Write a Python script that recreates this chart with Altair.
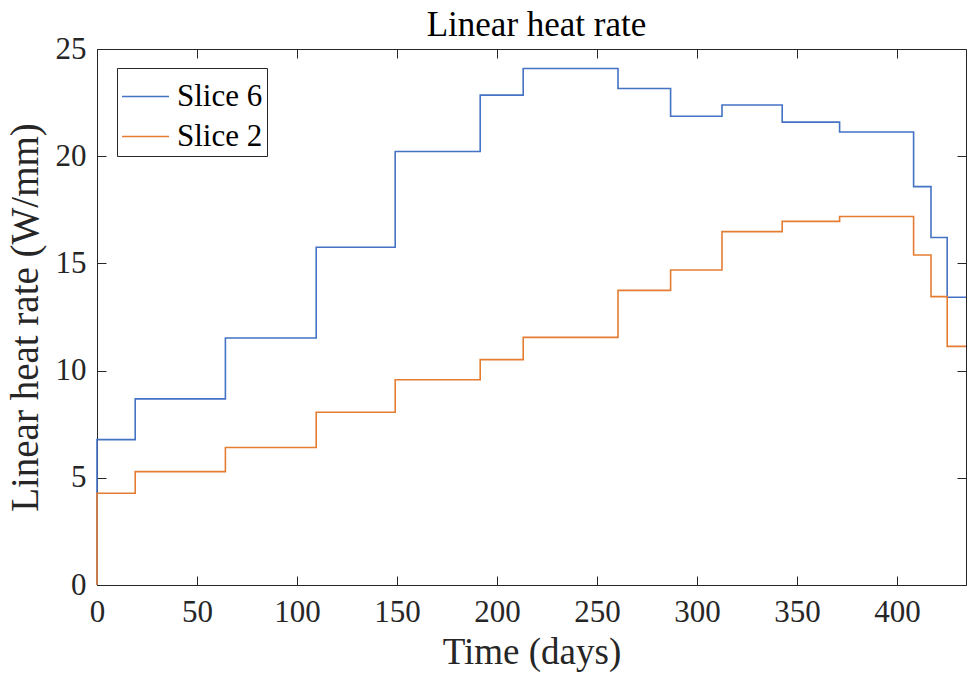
import altair as alt
import pandas as pd

# Step start times (days); last entry is the end of the final step
t_steps = [0, 0, 19.1, 64.2, 109.6, 149.1, 191.6, 213.1, 260.5, 286.8, 312.5,
           342.6, 371.3, 408.3, 417.0, 425.1, 434.5]
slice6 = [0, 6.78, 8.68, 11.52, 15.75, 20.22, 22.85, 24.09, 23.16, 21.86, 22.39,
          21.59, 21.13, 18.58, 16.21, 13.42, 13.42]
slice2 = [0, 4.28, 5.29, 6.41, 8.06, 9.57, 10.51, 11.55, 13.74, 14.69, 16.48,
          16.96, 17.19, 15.39, 13.45, 11.13, 11.13]
series_names = ["Slice 6", "Slice 2"]
series_colors = ["#4472C4", "#E47D32"]
x_ticks = [0, 50, 100, 150, 200, 250, 300, 350, 400]
y_ticks = [0, 5, 10, 15, 20, 25]
chart_title = "Linear heat rate"

rows = []
for name, vals in zip(series_names, [slice6, slice2]):
    for i, (t, v) in enumerate(zip(t_steps, vals)):
        rows.append({"t": t, "v": v, "series": name, "i": i})
df = pd.DataFrame(rows)

FONT = "Liberation Serif"
INK = "#262626"
TICK = 9

xscale = alt.Scale(domain=[0, 434.5], nice=False, zero=False)
yscale = alt.Scale(domain=[0, 25], nice=False)

base = alt.Chart(df)

lines = base.mark_line(interpolate="step-after", strokeWidth=1.6).encode(
    x=alt.X("t:Q", scale=xscale,
            axis=alt.Axis(title="Time (days)", values=x_ticks, ticks=False, domain=False,
                          grid=False, labelPadding=12, labelFontSize=31, labelFont=FONT,
                          labelFlush=False, labelOverlap=False,
                          labelColor=INK, titleFont=FONT, titleFontSize=37,
                          titleFontWeight="normal", titleColor=INK,
                          titleBaseline="alphabetic", titleY=78)),
    y=alt.Y("v:Q", scale=yscale,
            axis=alt.Axis(title="Linear heat rate (W/mm)", values=y_ticks, ticks=False,
                          domain=False, grid=False, labelPadding=11, labelFontSize=31,
                          labelFlush=False, labelOverlap=False,
                          labelFont=FONT, labelColor=INK, titleFont=FONT, titleFontSize=39,
                          titleFontWeight="normal", titleColor=INK,
                          titleBaseline="alphabetic", titleX=-60)),
    color=alt.Color("series:N",
                    scale=alt.Scale(domain=series_names, range=series_colors),
                    legend=alt.Legend(title=None, orient="none", legendX=20, legendY=19,
                                      symbolType="stroke", symbolSize=2209,
                                      symbolStrokeWidth=1.6, labelFont=FONT,
                                      labelFontSize=31, labelColor="black", labelOffset=7,
                                      rowPadding=0, padding=4, strokeColor=INK,
                                      fillColor="white", cornerRadius=0)),
    order="i:O",
)

ticks_bl = base.mark_line(opacity=0).encode(
    x=alt.X("t:Q", scale=xscale,
            axis=alt.Axis(title=None, orient="bottom", offset=-TICK, tickSize=TICK,
                          values=x_ticks, labels=False, domain=False, grid=False,
                          tickColor=INK, tickWidth=1)),
    y=alt.Y("v:Q", scale=yscale,
            axis=alt.Axis(title=None, orient="left", offset=-TICK, tickSize=TICK,
                          values=y_ticks, labels=False, domain=False, grid=False,
                          tickColor=INK, tickWidth=1)),
    detail="series:N",
    order="i:O",
)

ticks_tr = base.mark_line(opacity=0).encode(
    x=alt.X("t:Q", scale=xscale,
            axis=alt.Axis(title=chart_title, orient="top", offset=-TICK, tickSize=TICK,
                          values=x_ticks, labels=False, domain=False, grid=False,
                          tickColor=INK, tickWidth=1, titleFont=FONT, titleFontSize=35,
                          titleFontWeight="normal", titleColor="black",
                          titleBaseline="alphabetic", titleY=-23, titleX=439)),
    y=alt.Y("v:Q", scale=yscale,
            axis=alt.Axis(title=None, orient="right", offset=-TICK, tickSize=TICK,
                          values=y_ticks, labels=False, domain=False, grid=False,
                          tickColor=INK, tickWidth=1)),
    detail="series:N",
    order="i:O",
)

chart = alt.layer(lines, ticks_bl, ticks_tr).resolve_axis(
    x="independent", y="independent"
).properties(
    width=869,
    height=536,
    autosize=alt.AutoSizeParams(type="none"),
    padding={"left": 97, "top": 49, "right": 2, "bottom": 88},
    background="white",
).configure_view(stroke=INK, strokeWidth=1)

chart.save("out.html", embed_options={"renderer": "svg", "actions": False})
